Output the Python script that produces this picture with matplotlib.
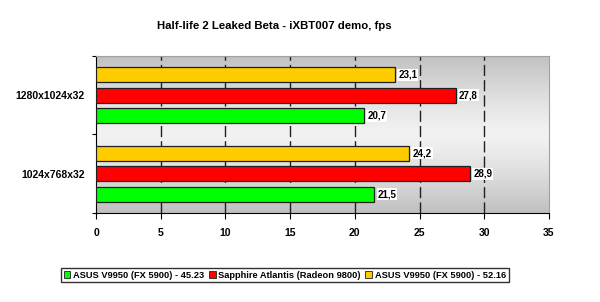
import matplotlib
matplotlib.use("Agg")
import matplotlib.pyplot as plt
import numpy as np
from matplotlib.patches import Patch

categories = ["1024x768x32", "1280x1024x32"]
series_names = ["ASUS V9950 (FX 5900) - 45.23",
                "Sapphire Atlantis (Radeon 9800)",
                "ASUS V9950 (FX 5900) - 52.16"]
values = {
    series_names[0]: [21.5, 20.7],
    series_names[1]: [28.9, 27.8],
    series_names[2]: [24.2, 23.1],
}
value_labels = {
    series_names[0]: ["21,5", "20,7"],
    series_names[1]: ["28,9", "27,8"],
    series_names[2]: ["24,2", "23,1"],
}
colors = ["#00ff00", "#ff0000", "#ffcc00"]
x_ticks = [0, 5, 10, 15, 20, 25, 30, 35]

plt.rcParams['font.family'] = ['Liberation Sans', 'DejaVu Sans']

fig = plt.figure(figsize=(6.0, 3.02), dpi=100)
ax = fig.add_axes([0.16, 0.2947, 0.755, 0.52])

# background gradient
grad = np.abs(np.linspace(-1, 1, 200))
c_edge = np.array([0xc0, 0xc0, 0xc0]) / 255
c_mid = np.array([0xf2, 0xf2, 0xf2]) / 255
img = (c_mid[None, :] * (1 - grad[:, None] ** 1.3) + c_edge[None, :] * grad[:, None] ** 1.3)
img = img[:, None, :]
ax.imshow(img, extent=[0, 35, 0, 2], aspect='auto', zorder=0, origin='lower')

offsets = [-0.26, 0.0, 0.26]
bh = 0.195
for k, name in enumerate(series_names):
    ys = np.arange(len(categories)) + 0.5 + offsets[k]
    ax.barh(ys, values[name], height=bh, color=colors[k], edgecolor='#202020',
            linewidth=0.9, zorder=3)
    for y, v, lab in zip(ys, values[name], value_labels[name]):
        ax.text(v + 0.25, y, lab, va='center', ha='left', fontsize=7,
                fontweight='bold', zorder=4,
                bbox=dict(boxstyle='square,pad=0.1', fc='white', ec='none'))

for xv in x_ticks[1:-1]:
    ax.axvline(xv, color='#202020', linestyle=(0, (8, 3)), linewidth=1.0, zorder=1)

ax.set_xlim(0, 35)
ax.set_ylim(0, 2)
ax.set_xticks(x_ticks)
ax.set_xticklabels([str(t) for t in x_ticks], fontsize=7.5, fontweight='bold')
ax.set_yticks([0, 1, 2])
ax.set_yticklabels([])
ax.set_yticks([0.5, 1.5], minor=True)
ax.set_yticklabels(categories, minor=True, fontsize=7.5, fontweight='bold')
ax.tick_params(axis='y', which='minor', length=0, pad=8)
ax.tick_params(axis='y', which='major', length=3, direction='out')
ax.tick_params(axis='x', length=4, direction='out', pad=7)

for s in ['top', 'right']:
    ax.spines[s].set_color('#a0a0a0')
for s in ['left', 'bottom']:
    ax.spines[s].set_color('black')

fig.text(0.458, 0.915, "Half-life 2 Leaked Beta - iXBT007 demo, fps", ha='center',
         va='center', fontsize=8.2, fontweight='bold')

handles = [Patch(facecolor=c, edgecolor='#202020', linewidth=0.6) for c in colors]
leg = fig.legend(handles, series_names, loc='center', bbox_to_anchor=(0.475, 0.089),
                 ncol=3, frameon=True, fancybox=False, handlelength=0.7,
                 handleheight=0.7, handletextpad=0.3, columnspacing=0.5,
                 borderpad=0.3, prop={'weight': 'bold', 'size': 6.7})
leg.get_frame().set_edgecolor('black')
leg.get_frame().set_linewidth(1.0)

fig.savefig("out.png", dpi=100)
